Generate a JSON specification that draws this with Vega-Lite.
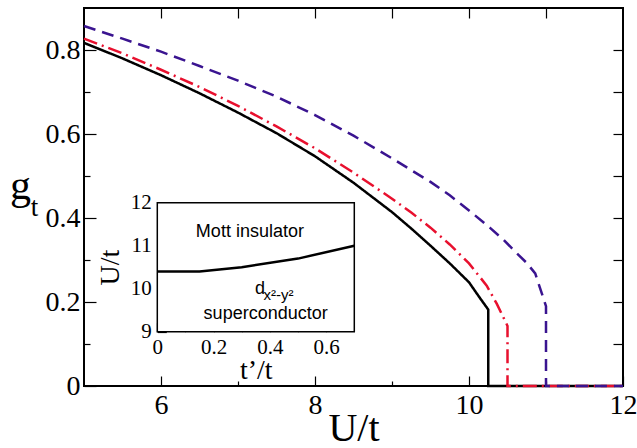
{
  "$schema": "https://vega.github.io/schema/vega-lite/v6.json",
  "width": 539,
  "height": 378,
  "autosize": "none",
  "padding": {"left": 84, "top": 8, "right": 14, "bottom": 62},
  "background": "white",
  "config": {
    "font": "Liberation Serif",
    "view": {"stroke": "black", "strokeWidth": 2},
    "axis": {
      "labelFont": "Liberation Serif",
      "titleFont": "Liberation Serif",
      "labelColor": "black",
      "titleColor": "black",
      "titleFontWeight": "normal",
      "labelFontWeight": "normal",
      "tickColor": "black",
      "tickWidth": 1.2,
      "domainColor": "black",
      "grid": false,
      "labelFlush": false,
      "labelOverlap": false
    }
  },
  "datasets": {
    "main": [
      {"series": "a", "i": 1, "U": 5, "g": 0.817},
      {"series": "a", "i": 2, "U": 5.5, "g": 0.78},
      {"series": "a", "i": 3, "U": 6, "g": 0.74},
      {"series": "a", "i": 4, "U": 6.5, "g": 0.697},
      {"series": "a", "i": 5, "U": 7, "g": 0.651},
      {"series": "a", "i": 6, "U": 7.5, "g": 0.602},
      {"series": "a", "i": 7, "U": 8, "g": 0.547},
      {"series": "a", "i": 8, "U": 8.5, "g": 0.484},
      {"series": "a", "i": 9, "U": 9, "g": 0.414},
      {"series": "a", "i": 10, "U": 9.25, "g": 0.375},
      {"series": "a", "i": 11, "U": 9.5, "g": 0.334},
      {"series": "a", "i": 12, "U": 9.75, "g": 0.292},
      {"series": "a", "i": 13, "U": 10, "g": 0.247},
      {"series": "a", "i": 14, "U": 10.14, "g": 0.21},
      {"series": "a", "i": 15, "U": 10.25, "g": 0.182},
      {"series": "a", "i": 16, "U": 10.25, "g": 0},
      {"series": "a", "i": 17, "U": 12, "g": 0},
      {"series": "b", "i": 1, "U": 5, "g": 0.827},
      {"series": "b", "i": 2, "U": 5.5, "g": 0.792},
      {"series": "b", "i": 3, "U": 6, "g": 0.753},
      {"series": "b", "i": 4, "U": 6.5, "g": 0.712},
      {"series": "b", "i": 5, "U": 7, "g": 0.667},
      {"series": "b", "i": 6, "U": 7.5, "g": 0.618},
      {"series": "b", "i": 7, "U": 8, "g": 0.566},
      {"series": "b", "i": 8, "U": 8.5, "g": 0.508},
      {"series": "b", "i": 9, "U": 9, "g": 0.446},
      {"series": "b", "i": 10, "U": 9.25, "g": 0.413},
      {"series": "b", "i": 11, "U": 9.5, "g": 0.377},
      {"series": "b", "i": 12, "U": 9.75, "g": 0.337},
      {"series": "b", "i": 13, "U": 10, "g": 0.292},
      {"series": "b", "i": 14, "U": 10.23, "g": 0.239},
      {"series": "b", "i": 15, "U": 10.36, "g": 0.196},
      {"series": "b", "i": 16, "U": 10.5, "g": 0.143},
      {"series": "b", "i": 17, "U": 10.5, "g": 0},
      {"series": "b", "i": 18, "U": 12, "g": 0},
      {"series": "c", "i": 1, "U": 5, "g": 0.857},
      {"series": "c", "i": 2, "U": 5.5, "g": 0.827},
      {"series": "c", "i": 3, "U": 6, "g": 0.796},
      {"series": "c", "i": 4, "U": 6.5, "g": 0.762},
      {"series": "c", "i": 5, "U": 7, "g": 0.727},
      {"series": "c", "i": 6, "U": 7.5, "g": 0.689},
      {"series": "c", "i": 7, "U": 8, "g": 0.645},
      {"series": "c", "i": 8, "U": 8.5, "g": 0.596},
      {"series": "c", "i": 9, "U": 9, "g": 0.542},
      {"series": "c", "i": 10, "U": 9.5, "g": 0.486},
      {"series": "c", "i": 11, "U": 9.75, "g": 0.454},
      {"series": "c", "i": 12, "U": 10, "g": 0.418},
      {"series": "c", "i": 13, "U": 10.27, "g": 0.377},
      {"series": "c", "i": 14, "U": 10.45, "g": 0.348},
      {"series": "c", "i": 15, "U": 10.62, "g": 0.316},
      {"series": "c", "i": 16, "U": 10.75, "g": 0.293},
      {"series": "c", "i": 17, "U": 10.86, "g": 0.268},
      {"series": "c", "i": 18, "U": 11, "g": 0.19},
      {"series": "c", "i": 19, "U": 11, "g": 0},
      {"series": "c", "i": 20, "U": 12, "g": 0}
    ],
    "inset": [
      {"tp": 0, "U2": 10.4},
      {"tp": 0.15, "U2": 10.4},
      {"tp": 0.3, "U2": 10.5},
      {"tp": 0.5, "U2": 10.7},
      {"tp": 0.7, "U2": 11.0}
    ],
    "anchor": [{"U": 5, "g": 0, "tp": 0, "U2": 9}],
    "frame": [{"tp0": 0, "tp1": 0.7, "u0": 9, "u1": 12}],
    "labels": [
      {"tp": 0.329, "U2": 11.21, "text": "Mott insulator"},
      {"tp": 0.385, "U2": 9.29, "text": "superconductor"}
    ],
    "dlabel": [{"tp": 0.347, "U2": 9.87, "text": "d"}],
    "sublabel": [{"tp": 0.377, "U2": 9.74, "text": "x²-y²"}]
  },
  "resolve": {
    "scale": {"x": "independent", "y": "independent"},
    "axis": {"x": "independent", "y": "independent"}
  },
  "layer": [
    {
      "data": {"name": "main"},
      "mark": {"type": "line", "strokeWidth": 2.5, "clip": false},
      "encoding": {
        "x": {
          "field": "U", "type": "quantitative",
          "scale": {"domain": [5, 12], "nice": false, "zero": false},
          "axis": {
            "orient": "bottom", "values": [6, 8, 10, 12], "tickSize": -10,
            "domain": false, "labelFont": "Liberation Serif", "labelFontSize": 28, "labelPadding": 15,
            "title": "U/t", "titleFont": "Liberation Serif", "titleFontSize": 40, "titleX": 269.5, "titleY": 54,
            "titleBaseline": "alphabetic", "titleAlign": "center"
          }
        },
        "y": {
          "field": "g", "type": "quantitative",
          "scale": {"domain": [0, 0.9], "nice": false},
          "axis": {
            "orient": "left", "values": [0, 0.2, 0.4, 0.6, 0.8], "tickSize": -12,
            "domain": false, "labelFont": "Liberation Serif", "labelFontSize": 28, "labelPadding": 16,
            "labelExpr": "datum.value == 0 ? '0' : format(datum.value, '.1f')",
            "title": "g", "titleFont": "Liberation Serif", "titleFontSize": 42, "titleAngle": 0,
            "titleX": -64, "titleY": 190, "titleAlign": "center", "titleBaseline": "alphabetic"
          }
        },
        "color": {
          "field": "series", "type": "nominal",
          "scale": {"domain": ["a", "b", "c"], "range": ["#000000", "#e8102e", "#3a1490"]},
          "legend": null
        },
        "strokeDash": {
          "field": "series", "type": "nominal",
          "scale": {"domain": ["a", "b", "c"], "range": [[1, 0], [14, 5, 2, 5], [12, 7]]},
          "legend": null
        },
        "order": {"field": "i", "type": "quantitative"}
      }
    },
    {
      "data": {"name": "anchor"},
      "mark": {"type": "point", "opacity": 0},
      "encoding": {
        "x": {
          "field": "U", "type": "quantitative",
          "scale": {"domain": [5, 12], "nice": false, "zero": false},
          "axis": {"orient": "top", "values": [6, 7, 8, 9, 10, 11], "tickSize": -10, "labels": false, "domain": false, "title": null}
        },
        "y": {
          "field": "g", "type": "quantitative",
          "scale": {"domain": [0, 0.9], "nice": false},
          "axis": {"orient": "right", "values": [0.1, 0.2, 0.3, 0.4, 0.5, 0.6, 0.7, 0.8], "tickSize": -10, "labels": false, "domain": false, "title": null}
        }
      }
    },
    {
      "data": {"name": "anchor"},
      "mark": {"type": "point", "opacity": 0},
      "encoding": {
        "x": {
          "field": "U", "type": "quantitative",
          "scale": {"domain": [5, 12], "nice": false, "zero": false},
          "axis": {"orient": "bottom", "values": [7, 9, 11], "tickSize": -5, "labels": false, "domain": false, "title": null}
        },
        "y": {
          "field": "g", "type": "quantitative",
          "scale": {"domain": [0, 0.9], "nice": false},
          "axis": {
            "orient": "left", "values": [0.1, 0.3, 0.5, 0.7], "tickSize": -6, "labels": false, "domain": false,
            "title": "t", "titleFont": "Liberation Serif", "titleFontSize": 27, "titleAngle": 0,
            "titleX": -50, "titleY": 207, "titleAlign": "center", "titleBaseline": "alphabetic"
          }
        }
      }
    },
    {
      "data": {"name": "frame"},
      "mark": {"type": "rect", "fill": "white", "stroke": "black", "strokeWidth": 1.5},
      "encoding": {
        "x": {
          "field": "tp0", "type": "quantitative",
          "scale": {"domain": [0, 0.7], "range": [73.3, 270.3], "nice": false, "zero": false},
          "axis": {
            "orient": "bottom", "offset": -54.3, "values": [0, 0.2, 0.4, 0.6], "tickSize": -9,
            "domain": false, "labelFont": "Liberation Serif", "labelFontSize": 21, "labelPadding": 14,
            "labelExpr": "datum.value == 0 ? '0' : format(datum.value, '.1f')",
            "title": "t’/t", "titleFont": "Liberation Serif", "titleFontSize": 28, "titleX": 171.8, "titleY": 47,
            "titleAlign": "center", "titleBaseline": "alphabetic"
          }
        },
        "x2": {"field": "tp1"},
        "y": {
          "field": "u0", "type": "quantitative",
          "scale": {"domain": [9, 12], "range": [323.7, 194.7], "nice": false, "zero": false},
          "axis": {
            "orient": "left", "offset": -73.3, "values": [9, 10, 11, 12], "tickSize": -9,
            "domain": false, "labelFont": "Liberation Serif", "labelFontSize": 21, "labelPadding": 15,
            "title": "U/t", "titleFont": "Liberation Serif", "titleFontSize": 28, "titleAngle": -90,
            "titleX": -39, "titleY": 259.2, "titleAlign": "center", "titleBaseline": "alphabetic"
          }
        },
        "y2": {"field": "u1"}
      }
    },
    {
      "data": {"name": "anchor"},
      "mark": {"type": "point", "opacity": 0},
      "encoding": {
        "x": {
          "field": "tp", "type": "quantitative",
          "scale": {"domain": [0, 0.7], "range": [73.3, 270.3], "nice": false, "zero": false},
          "axis": {"orient": "bottom", "offset": -54.3, "values": [0.1, 0.3, 0.5], "tickSize": -4, "labels": false, "domain": false, "title": null}
        },
        "y": {
          "field": "U2", "type": "quantitative",
          "scale": {"domain": [9, 12], "range": [323.7, 194.7], "nice": false, "zero": false},
          "axis": {"orient": "left", "offset": -73.3, "values": [9.5, 10.5, 11.5], "tickSize": -4, "labels": false, "domain": false, "title": null}
        }
      }
    },
    {
      "data": {"name": "inset"},
      "mark": {"type": "line", "color": "black", "strokeWidth": 2.5},
      "encoding": {
        "x": {"field": "tp", "type": "quantitative", "scale": {"domain": [0, 0.7], "range": [73.3, 270.3], "nice": false, "zero": false}, "axis": null},
        "y": {"field": "U2", "type": "quantitative", "scale": {"domain": [9, 12], "range": [323.7, 194.7], "nice": false, "zero": false}, "axis": null}
      }
    },
    {
      "data": {"name": "labels"},
      "mark": {"type": "text", "font": "Liberation Sans", "fontSize": 18, "color": "black", "align": "center", "baseline": "alphabetic"},
      "encoding": {
        "x": {"field": "tp", "type": "quantitative", "scale": {"domain": [0, 0.7], "range": [73.3, 270.3], "nice": false, "zero": false}, "axis": null},
        "y": {"field": "U2", "type": "quantitative", "scale": {"domain": [9, 12], "range": [323.7, 194.7], "nice": false, "zero": false}, "axis": null},
        "text": {"field": "text"}
      }
    },
    {
      "data": {"name": "dlabel"},
      "mark": {"type": "text", "font": "Liberation Sans", "fontSize": 18, "color": "black", "align": "left", "baseline": "alphabetic"},
      "encoding": {
        "x": {"field": "tp", "type": "quantitative", "scale": {"domain": [0, 0.7], "range": [73.3, 270.3], "nice": false, "zero": false}, "axis": null},
        "y": {"field": "U2", "type": "quantitative", "scale": {"domain": [9, 12], "range": [323.7, 194.7], "nice": false, "zero": false}, "axis": null},
        "text": {"field": "text"}
      }
    },
    {
      "data": {"name": "sublabel"},
      "mark": {"type": "text", "font": "Liberation Sans", "fontSize": 15, "color": "black", "align": "left", "baseline": "alphabetic"},
      "encoding": {
        "x": {"field": "tp", "type": "quantitative", "scale": {"domain": [0, 0.7], "range": [73.3, 270.3], "nice": false, "zero": false}, "axis": null},
        "y": {"field": "U2", "type": "quantitative", "scale": {"domain": [9, 12], "range": [323.7, 194.7], "nice": false, "zero": false}, "axis": null},
        "text": {"field": "text"}
      }
    }
  ]
}
